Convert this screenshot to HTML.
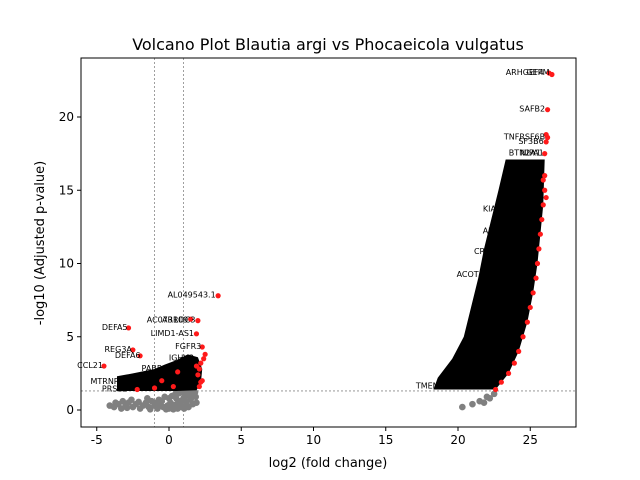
<!DOCTYPE html>
<html><head><meta charset="utf-8"><style>
body{margin:0;background:#fff}
svg{display:block;font-family:"DejaVu Sans","Liberation Sans",sans-serif}
</style></head><body>
<svg id="chart" width="640" height="480" viewBox="0 0 640 480">
<rect width="640" height="480" fill="#fff"/>
<text x="328" y="50" font-size="16" text-anchor="middle">Volcano Plot Blautia argi vs Phocaeicola vulgatus</text>
<text x="328" y="467" font-size="13" text-anchor="middle">log2 (fold change)</text>
<text x="44" y="243" font-size="13" text-anchor="middle" transform="rotate(-90 44 243)">-log10 (Adjusted p-value)</text>
<g id="marks"></g>
<rect x="81" y="58" width="495" height="369" fill="none" stroke="#000" stroke-width="1"/>
</svg>
<script>
const xTicks=[-5,0,5,10,15,20,25];
const yTicks=[0,5,10,15,20];
const grayX=[-4.1,-3.8,-3.5,-3.3,-3,-2.8,-2.5,-2.3,-2,-1.8,-1.6,-1.4,-1.2,-1,-0.8,-0.6,-0.4,-0.2,0,0.2,0.4,0.6,0.8,1,1.2,1.4,1.6,0.3,0.6,0.9,1.2,1.5,1.7,1.8,-0.5,0.1,0.5,-2.6,-3.2,-1.5,-0.1,0.35,0.75,1.1,1.45,-0.9,-0.7,-0.3,0.0,0.2,0.45,0.7,0.95,1.25,1.55,1.85,1.9,1.65,1.35,1.05,-3.7,-2.9,-2.1,-1.3,20.3,21,21.5,22,22.5,21.8,22.2];
const grayY=[0.3,0.2,0.4,0.1,0.3,0.5,0.2,0.4,0.1,0.3,0.5,0.2,0.6,0.3,0.1,0.4,0.2,0.05,0.1,0.15,0.3,0.45,0.6,0.8,1.0,1.2,1.25,0.05,0.1,0.2,0.4,0.7,1.0,1.2,0.6,0.5,0.8,0.7,0.6,0.8,0.3,0.35,0.45,0.65,0.95,0.5,0.7,0.9,0.8,0.95,1.1,1.15,1.2,1.25,1.0,0.9,0.5,0.4,0.2,0.1,0.5,0.15,0.55,0.05,0.2,0.4,0.6,0.9,1.1,0.5,0.8];
const cloudRightX=[23.3,26.0,25.9,25.7,25.5,25.2,24.8,24.2,23.5,22.6,18.3,18.6,19.6,20.4,20.9,21.4,21.8,22.3,22.8];
const cloudRightY=[17.1,17.1,14,12,10,8,6,4,2.5,1.4,1.4,2.2,3.5,5,7,9,11,13,15];
const cloudLeftX=[-3.6,-3.6,-2.5,-1.0,-0.3,0.5,1.3,2.0,2.3,2.2,1.9,0.5,-0.3,-3.6];
const cloudLeftY=[1.3,2.3,2.5,2.8,3.1,3.4,3.8,3.6,2.8,1.8,1.35,1.3,1.3,1.3];
const redX=[26.3,26.5,26.2,26.2,26.1,26.1,26.0,25.9,26.1,22.6,23.0,23.5,23.9,24.2,24.5,24.8,25.0,25.2,25.4,25.5,25.6,25.7,25.8,25.9,26.0,26.0,3.4,2.0,1.5,1.9,-2.8,2.3,-2.5,-2.0,-4.5,2.5,2.4,2.2,2.1,2.0,2.3,-2.2,-1.0,-0.5,0.3,0.6,2.1,2.2,1.9];
const redY=[23.0,22.9,20.5,18.6,18.3,18.8,17.5,15.7,14.5,1.4,1.9,2.5,3.2,4.0,5.0,6.0,7.0,8.0,9.0,10.0,11.0,12.0,13.0,14.0,15.0,16.0,7.8,6.1,6.2,5.2,5.6,4.3,4.1,3.7,3.0,3.8,3.5,3.2,2.8,2.4,2.0,1.4,1.5,2.0,1.6,2.6,1.6,1.9,3.0];
const labelText=["ARHGEF4","GEPM","SAFB2","TNFRSF6B","SF3B6","BTN2A1","NIPA1","UACA","NLRP1","RBPJ","KIAA0232","SLC35F2","ALG10","TMEM","AL049543.1","ARRDC3","AC073109","LIMD1-AS1","DEFA5","FGFR3","REG3A","DEFA6","CCL21","IGHV3","PABPC1","MTRNR2L12","PRSS2","TMEM98","ACOT","CRY2"];
const labelX=[26.0,26.4,26.1,26.1,26.0,25.8,26.0,25.9,25.9,25.8,24.5,25.0,23.6,20.2,3.3,1.9,1.4,1.8,-2.8,2.3,-2.5,-1.9,-4.5,1.8,0.3,-2.0,-2.8,19.5,21.5,22.6];
const labelY=[23.0,23.0,20.5,18.6,18.3,17.5,17.5,16.4,15.6,15.2,13.7,13.0,12.2,1.6,7.8,6.1,6.1,5.2,5.6,4.3,4.1,3.7,3.0,3.5,2.8,1.9,1.4,1.6,9.2,10.8];
const NS="http://www.w3.org/2000/svg";
const X0=81,X1=576,Y0=58,Y1=427;
function sx(v){return 169+v*14.45;}
function sy(v){return 410-v*14.65;}
const g=document.getElementById('marks');
function mk(t,a){const e=document.createElementNS(NS,t);for(const k in a)e.setAttribute(k,a[k]);g.appendChild(e);return e;}
xTicks.forEach(t=>{
  const l=mk('line',{x1:sx(t),x2:sx(t),y1:Y1,y2:Y1+4,stroke:'#000'});
  
  
  const s=mk('text',{x:sx(t),y:Y1+17,'font-size':12,'text-anchor':'middle'});s.textContent=t;
  
  
});
yTicks.forEach(t=>{
  const l=mk('line',{x1:X0-4,x2:X0,y1:sy(t),y2:sy(t),stroke:'#000'});
  
  
  const s=mk('text',{x:X0-7,y:sy(t)+4,'font-size':12,'text-anchor':'end'});s.textContent=t;
  
  
});
[[-1,'v'],[1,'v'],[1.3,'h']].forEach(([v,o])=>{
  const a=o==='v'?{x1:sx(v),x2:sx(v),y1:Y0,y2:Y1}:{x1:X0,x2:X1,y1:sy(v),y2:sy(v)};
  a.stroke='#888';a['stroke-width']=0.8;a['stroke-dasharray']='2,2';
  const l=mk('line',a);
  
  
});
grayX.forEach((x,i)=>{
  const c=mk('circle',{cx:sx(x),cy:sy(grayY[i]),r:3.3,fill:'#808080'});
  
  
});
function poly(xs,ys,name){
  const p=mk('polygon',{points:xs.map((x,i)=>sx(x)+','+sy(ys[i])).join(' '),fill:'#000'});
  
  
}
poly(cloudRightX,cloudRightY,'label-cloud-right');
poly(cloudLeftX,cloudLeftY,'label-cloud-left');
redX.forEach((x,i)=>{
  const c=mk('circle',{cx:sx(x),cy:sy(redY[i]),r:2.6,fill:'#ff1a1a'});
  
  
});
labelText.forEach((t,i)=>{
  const s=mk('text',{x:sx(labelX[i])-1,y:sy(labelY[i])+2,'font-size':8,'text-anchor':'end'});
  s.textContent=t;
  
  
});
</script>
</body></html>
